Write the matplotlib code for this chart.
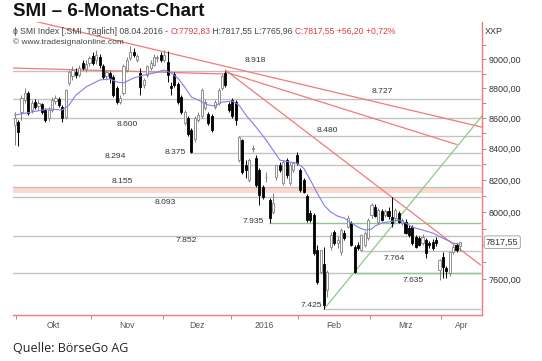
import numpy as np
import pandas as pd
import matplotlib
matplotlib.use("Agg")
import matplotlib.pyplot as plt
from matplotlib.ticker import FixedLocator, NullFormatter, FixedFormatter

plt.rcParams["font.family"] = ["Liberation Sans", "DejaVu Sans"]

# ── data ─────────────────────────────────────────────────────────────────────
holidays = ["2015-12-24", "2015-12-25", "2015-12-31", "2016-01-01",
            "2016-03-25", "2016-03-28"]
dates = pd.bdate_range("2015-09-30", "2016-04-08")
dates = dates[~dates.isin(pd.to_datetime(holidays))]

opens = [8555, 8574, 8641, 8721, 8768, 8654, 8707, 8681, 8694, 8654,
         8601, 8654, 8714, 8727, 8674, 8607, 8836, 8883, 8911, 8890,
         8972, 8931, 8972, 9021, 8993, 9014, 8952, 8883, 8904, 8877,
         8802, 8707, 8768, 8924, 9007, 9049, 8993, 8904, 8822, 8890,
         8938, 8959, 9007, 9028, 8993, 8979, 8815, 8897, 8829, 8741,
         8568, 8601, 8522, 8463, 8588, 8614, 8667, 8627, 8614, 8674,
         8701, 8802, 8904, 8694, 8721, 8707, 8327, 8454, 8296, 8200,
         8398, 8340, 8264, 8156, 8219, 8075, 8001, 8219, 8296, 8181,
         8327, 8181, 8264, 8360, 8264, 8200, 8100, 7995, 7983, 7771,
         7640, 7687, 7535, 7789, 7879, 7812, 7759, 7873, 7909, 7934,
         7788, 7800, 7771, 7800, 7842, 7982, 8032, 7940, 8007, 7982,
         8007, 7970, 7964, 7995, 7934, 7940, 7903, 7909, 7849, 7842,
         7812, 7830, 7812, 7818, 7830, 7652, 7729, 7664, 7634, 7759,
         7801, 7792.83]
highs = [8641, 8588, 8754, 8802, 8781, 8721, 8727, 8721, 8701, 8667,
         8674, 8741, 8754, 8741, 8687, 8795, 8924, 8952, 8938, 8959,
         8993, 8993, 9021, 9049, 9063, 9035, 8966, 8924, 8918, 8890,
         8815, 8754, 8966, 9014, 9091, 9077, 9035, 8938, 8870, 8959,
         8993, 9035, 9028, 9049, 9063, 9056, 8843, 8911, 8843, 8754,
         8654, 8614, 8535, 8614, 8641, 8802, 8727, 8641, 8627, 8721,
         8802, 8897, 8918, 8707, 8734, 8721, 8480, 8466, 8327, 8340,
         8424, 8360, 8276, 8169, 8251, 8088, 8119, 8296, 8315, 8327,
         8340, 8315, 8315, 8379, 8276, 8213, 8113, 8013, 7995, 7801,
         7759, 7789, 7652, 7880, 7891, 7854, 7903, 7891, 7982, 7946,
         7800, 7818, 7866, 7885, 7964, 8057, 8050, 8025, 8020, 8020,
         8032, 8094, 8025, 8007, 7964, 7958, 7921, 7921, 7860, 7854,
         7866, 7842, 7824, 7836, 7849, 7717, 7759, 7676, 7759, 7801,
         7812, 7817.55]
lows = [8424, 8418, 8588, 8701, 8621, 8634, 8661, 8654, 8627, 8575,
        8581, 8641, 8694, 8674, 8575, 8594, 8822, 8856, 8870, 8877,
        8924, 8911, 8952, 8959, 8966, 8938, 8863, 8856, 8836, 8741,
        8694, 8694, 8754, 8911, 8993, 9014, 8979, 8754, 8802, 8877,
        8924, 8952, 8979, 8979, 8979, 8843, 8754, 8809, 8694, 8627,
        8555, 8482, 8375, 8444, 8575, 8601, 8654, 8555, 8509, 8661,
        8687, 8788, 8809, 8641, 8601, 8555, 8315, 8238, 8213, 8188,
        8379, 8156, 8044, 8081, 8188, 7935, 7989, 8200, 8251, 8169,
        8213, 8169, 8251, 8296, 8125, 8119, 7940, 7940, 7741, 7570,
        7628, 7425, 7495, 7771, 7800, 7783, 7741, 7830, 7903, 7795,
        7635, 7771, 7764, 7790, 7830, 7964, 7970, 7927, 7946, 7970,
        7958, 7909, 7952, 7934, 7921, 7866, 7850, 7800, 7780, 7795,
        7800, 7723, 7780, 7770, 7795, 7593, 7604, 7604, 7617, 7747,
        7759, 7765.96]
closes = [8601, 8509, 8734, 8768, 8634, 8701, 8674, 8701, 8641, 8588,
          8654, 8721, 8734, 8687, 8601, 8788, 8911, 8924, 8890, 8938,
          8938, 8966, 9007, 8972, 9028, 8959, 8877, 8911, 8870, 8754,
          8707, 8734, 8952, 8993, 9049, 9028, 9021, 8809, 8856, 8952,
          8972, 9014, 9014, 8993, 9028, 8890, 8802, 8822, 8707, 8641,
          8641, 8495, 8380, 8601, 8621, 8788, 8707, 8568, 8522, 8707,
          8788, 8883, 8822, 8654, 8614, 8588, 8479, 8251, 8264, 8327,
          8404, 8169, 8106, 8094, 8219, 7965, 8057, 8296, 8264, 8315,
          8232, 8296, 8308, 8308, 8138, 8125, 7952, 7952, 7753, 7582,
          7771, 7449, 7640, 7861, 7812, 7830, 7891, 7842, 7964, 7800,
          7640, 7783, 7860, 7873, 7952, 8044, 7976, 8013, 7952, 8007,
          7976, 7934, 8013, 7940, 7952, 7873, 7860, 7812, 7789, 7800,
          7849, 7753, 7800, 7783, 7812, 7711, 7670, 7646, 7759, 7789,
          7771, 7817.55]

# moving average
ma_idx = [0, 5, 10, 14, 16, 18, 21, 25, 28, 30, 32, 35, 38, 41, 44, 46, 48,
          50, 52, 54, 57, 59, 61, 64, 66, 68, 71, 74, 77, 78, 81, 83, 85, 87,
          89, 91, 93, 95, 97, 99, 101, 103, 105, 106, 108, 110, 113, 115,
          117, 120, 123, 126, 129, 131]
ma_val = [8620, 8641, 8661, 8654, 8687, 8754, 8809, 8856, 8863, 8843, 8836,
          8870, 8890, 8904, 8924, 8904, 8870, 8809, 8741, 8721, 8687, 8681,
          8707, 8714, 8687, 8621, 8542, 8456, 8360, 8327, 8315, 8308, 8276,
          8200, 8119, 8044, 8001, 7976, 7964, 7934, 7909, 7891, 7897, 7915,
          7934, 7940, 7952, 7934, 7909, 7891, 7873, 7842, 7812, 7806]

# support / resistance levels
levels      = [8918, 8727, 8600, 8480, 8375, 8294, 8155, 8093, 7852, 7764, 7635, 7425]
level_start = [-0.5, -0.5, -0.5, 66,   52,   -0.5, -0.5, -0.5, -0.5, 102,  -0.5, 91]
green_levels = [7935, 7635]
green_start  = [75, 100]
band_lo, band_hi = 8118, 8153

label_vals = ["8.918", "8.727", "8.600", "8.480", "8.375", "8.294", "8.155",
              "8.093", "7.935", "7.852", "7.764", "7.635", "7.425"]
label_lvl  = [8918, 8727, 8600, 8480, 8375, 8294, 8155, 8093, 7935, 7852, 7764, 7635, 7425]
label_x    = [70.7, 108.3, 33, 91.9, 47.1, 29.5, 31.6, 44.2, 70.1, 50.4, 111.8, 117.1, 87.2]
label_dy   = [10, 8, -6, 6, 0, 9, 6, -5, 1, -4, -7, -8, 4]

# trend lines: (index, price) pairs
red_lines = [((6, 9265), (137.5, 8541)),
             ((-0.5, 8938), (62, 8897)),
             ((62, 8911), (130, 8428)),
             ((62, 8924), (137, 7683))]
green_lines = [((91, 7425), (137.5, 8614))]

yticks = [7600, 7800, 8000, 8200, 8400, 8600, 8800, 9000]
last_close = 7817.55

GRID  = "#c2c2c2"
RED   = "#f07a7a"
GREEN = "#8cc88c"
BLUE  = "#7f7ff0"
TXT   = "#333333"

# ── figure ───────────────────────────────────────────────────────────────────
W, H = 542, 361
fig = plt.figure(figsize=(W / 100, H / 100), dpi=100)
ax = fig.add_axes([13 / W, 1 - 315 / H, (482 - 13) / W, (315 - 22) / H])
ax.set_yscale("log")
ax.set_xlim(-0.5, 137.5)
ax.set_ylim(7392, 9260)

# levels
for lv, st in zip(levels, level_start):
    ax.plot([st, 137], [lv, lv], color=GRID, lw=1.0, zorder=1)
ax.axhspan(band_lo, band_hi, color="#fcd9cc", lw=0, zorder=0.5)
for lv, st in zip(green_levels, green_start):
    ax.plot([st, 137], [lv, lv], color=GREEN, lw=1.0, zorder=1.2)

for (x0, y0), (x1, y1) in red_lines:
    ax.plot([x0, x1], [y0, y1], color=RED, lw=0.9, zorder=1.5)
for (x0, y0), (x1, y1) in green_lines:
    ax.plot([x0, x1], [y0, y1], color=GREEN, lw=0.9, zorder=1.5)

for txt, lv, lx, dy in zip(label_vals, label_lvl, label_x, label_dy):
    ax.annotate(txt, (lx, lv), xytext=(0, dy), textcoords="offset pixels",
                ha="center", va="center", fontsize=6.1, color=TXT, zorder=6)

# candles
x = np.arange(len(closes))
o, h, l, c = (np.array(a, dtype=float) for a in (opens, highs, lows, closes))
up = c >= o
body_lo = np.minimum(o, c)
body_h = np.maximum(np.abs(c - o), 3)
ax.vlines(x[up], l[up], h[up], color="#808080", lw=0.7, zorder=3)
ax.vlines(x[~up], l[~up], h[~up], color="black", lw=0.7, zorder=3)
ax.bar(x[up], body_h[up], bottom=body_lo[up], width=0.62, color="white",
       edgecolor="#808080", lw=0.6, zorder=4)
ax.bar(x[~up], body_h[~up], bottom=body_lo[~up], width=0.62, color="black",
       edgecolor="black", lw=0.6, zorder=4)

ax.plot(ma_idx, ma_val, color=BLUE, lw=0.8, zorder=5)

# axes styling
for s in ("top", "left"):
    ax.spines[s].set_visible(False)
for s in ("bottom", "right"):
    ax.spines[s].set_color(RED)
    ax.spines[s].set_linewidth(1.0)

# the last-price box hides the 7800 label, as in the original
ytick_labels = ["" if v == 7800 else f"{v:.2f}".replace(".", ",") for v in yticks]
ax.yaxis.tick_right()
ax.yaxis.set_major_locator(FixedLocator(yticks))
ax.yaxis.set_major_formatter(FixedFormatter(ytick_labels))
ax.yaxis.set_minor_locator(FixedLocator([v + 100 for v in yticks]))
ax.yaxis.set_minor_formatter(NullFormatter())
ax.tick_params(axis="y", which="both", direction="out", length=3, width=0.6,
               color="#888888", labelsize=6.5, labelcolor=TXT, pad=1.5)

month = dates.month
bounds = [i - 0.5 for i in range(1, len(dates)) if month[i] != month[i - 1]]
edges = bounds + [137.5]
mids = [(a + b) / 2 for a, b in zip(edges[:-1], edges[1:])]
month_names = ["Okt", "Nov", "Dez", "2016", "Feb", "Mrz", "Apr"]
ax.xaxis.set_major_locator(FixedLocator(bounds))
ax.xaxis.set_major_formatter(NullFormatter())
ax.xaxis.set_minor_locator(FixedLocator(mids))
ax.xaxis.set_minor_formatter(FixedFormatter(month_names))
ax.tick_params(axis="x", which="major", direction="out", length=3, width=0.6,
               color="#888888")
ax.tick_params(axis="x", which="minor", length=0, labelsize=6.2, labelcolor="#555555",
               pad=4)

ax.annotate(f"{last_close:.2f}".replace(".", ","), (1.0, last_close),
            xycoords=ax.get_yaxis_transform(), xytext=(4, 0),
            textcoords="offset pixels", ha="left", va="center", fontsize=6.5,
            color=TXT, bbox=dict(boxstyle="round,pad=0.2", fc="white",
                                 ec="#999999", lw=0.6), zorder=10)

# header
fig.text(13 / W, 1 - 11 / H, "SMI – 6-Monats-Chart", fontsize=13.5,
         fontweight="bold", va="center", ha="left", color="#111111")

renderer = fig.canvas.get_renderer()
parts = [("ɸ SMI Index [.SMI  Täglich] 08.04.2016 - ", "#444444"),
         ("O:7792,83", "#e23b3b"),
         (" H:7817,55 L:7765,96 ", "#444444"),
         ("C:7817,55 +56,20 +0,72%", "#e23b3b")]
xpos = 13 / W
for txt, col in parts:
    t = fig.text(xpos, 1 - 31 / H, txt, fontsize=6.2, color=col, va="center", ha="left")
    xpos += t.get_window_extent(renderer=renderer).width / fig.bbox.width
fig.text(13 / W, 1 - 42 / H, "© www.tradesignalonline.com", fontsize=6.0,
         color="#444444", va="center", ha="left")
fig.text(485 / W, 1 - 31 / H, "XXP", fontsize=6.5, color=TXT, va="center", ha="left")

fig.text(13 / W, 1 - 348 / H, "Quelle: BörseGo AG", fontsize=9, color="#222222",
         va="center", ha="left", family=["Open Sans", "DejaVu Sans"])

fig.savefig("out.png", dpi=100)
